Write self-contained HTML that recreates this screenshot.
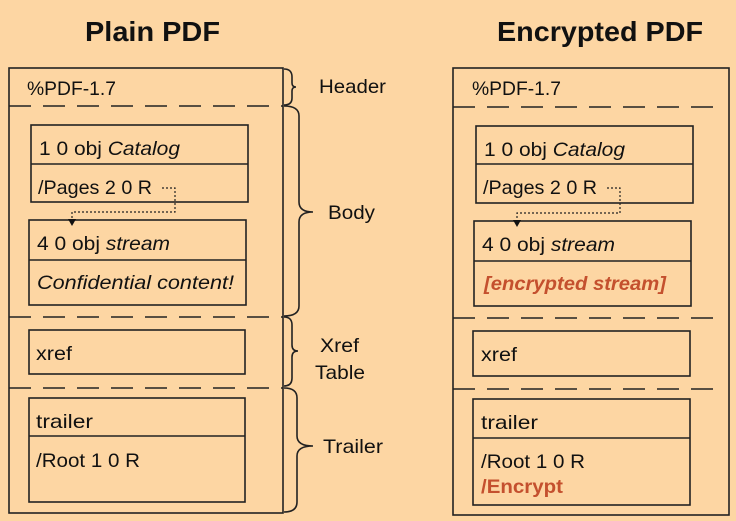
<!DOCTYPE html>
<html><head><meta charset="utf-8"><style>
html,body{margin:0;padding:0;background:#fdd6a3;}
svg{display:block}
text{font-family:"Liberation Sans",sans-serif;fill:#111;}
</style></head><body>
<svg width="736" height="521" viewBox="0 0 736 521" xmlns="http://www.w3.org/2000/svg">
<rect width="736" height="521" fill="#fdd6a3"/>
<g font-weight="bold" font-size="28">
<text x="85" y="41" textLength="135" lengthAdjust="spacingAndGlyphs">Plain PDF</text>
<text x="497" y="41" textLength="206" lengthAdjust="spacingAndGlyphs">Encrypted PDF</text>
</g>
<g fill="none" stroke="#222" stroke-width="1.6">
<rect x="9" y="68" width="274" height="445"/>
<g stroke-dasharray="22,12"><line x1="9" y1="106" x2="283" y2="106"/><line x1="9" y1="317" x2="283" y2="317"/><line x1="9" y1="388" x2="283" y2="388"/></g>
<rect x="31" y="125" width="217" height="77"/><line x1="31" y1="164" x2="248" y2="164"/>
<rect x="29" y="220" width="217" height="85"/><line x1="29" y1="260" x2="246" y2="260"/>
<rect x="29" y="330" width="216" height="44"/>
<rect x="29" y="398" width="216" height="104"/><line x1="29" y1="436" x2="245" y2="436"/>
<path d="M162 188 H175 V212 H72 V220" stroke-dasharray="2,2" stroke-width="1.2"/>
<rect x="453" y="68" width="276" height="447"/>
<g stroke-dasharray="22,12"><line x1="453" y1="107" x2="722" y2="107"/><line x1="453" y1="318" x2="722" y2="318"/><line x1="453" y1="389" x2="722" y2="389"/></g>
<rect x="476" y="126" width="217" height="77"/><line x1="476" y1="164" x2="693" y2="164"/>
<rect x="474" y="221" width="217" height="85"/><line x1="474" y1="261" x2="691" y2="261"/>
<rect x="473" y="331" width="217" height="45"/>
<rect x="473" y="399" width="217" height="106"/><line x1="473" y1="438" x2="690" y2="438"/>
<path d="M607 188 H620 V213 H517 V221" stroke-dasharray="2,2" stroke-width="1.2"/>
<path d="M284 69 Q292 69 292 77 V83 Q292 87 296 87 Q292 87 292 91 V98 Q292 105 284 105"/>
<path d="M284 106 Q299 106 299 116 V202 Q299 212 313 212 Q299 212 299 222 V306 Q299 316 284 316"/>
<path d="M284 317 Q292 317 292 325 V345 Q292 351 298 351 Q292 351 292 357 V378 Q292 386 284 386"/>
<path d="M284 388 Q297 388 297 398 V436 Q297 446 313 446 Q297 446 297 456 V502 Q297 512 284 512"/>
</g>
<path d="M68 219 L76 219 L72 226 Z" fill="#111"/>
<path d="M513 220 L521 220 L517 227 Z" fill="#111"/>
<g font-size="19.5">
<text x="27" y="95" textLength="89" lengthAdjust="spacingAndGlyphs">%PDF-1.7</text>
<text x="39" y="155" textLength="141" lengthAdjust="spacingAndGlyphs">1 0 obj <tspan font-style="italic">Catalog</tspan></text>
<text x="38" y="194" textLength="114" lengthAdjust="spacingAndGlyphs">/Pages 2 0 R</text>
<text x="37" y="250" textLength="133" lengthAdjust="spacingAndGlyphs">4 0 obj <tspan font-style="italic">stream</tspan></text>
<text x="37" y="289" font-style="italic" textLength="197" lengthAdjust="spacingAndGlyphs">Confidential content!</text>
<text x="36" y="360" textLength="36" lengthAdjust="spacingAndGlyphs">xref</text>
<text x="36" y="428" textLength="57" lengthAdjust="spacingAndGlyphs">trailer</text>
<text x="36" y="467" textLength="104" lengthAdjust="spacingAndGlyphs">/Root 1 0 R</text>
<text x="319" y="93" textLength="67" lengthAdjust="spacingAndGlyphs">Header</text>
<text x="328" y="219" textLength="47" lengthAdjust="spacingAndGlyphs">Body</text>
<text x="320" y="352" textLength="39" lengthAdjust="spacingAndGlyphs">Xref</text>
<text x="315" y="379" textLength="50" lengthAdjust="spacingAndGlyphs">Table</text>
<text x="323" y="453" textLength="60" lengthAdjust="spacingAndGlyphs">Trailer</text>
<text x="472" y="95" textLength="89" lengthAdjust="spacingAndGlyphs">%PDF-1.7</text>
<text x="484" y="156" textLength="141" lengthAdjust="spacingAndGlyphs">1 0 obj <tspan font-style="italic">Catalog</tspan></text>
<text x="483" y="194" textLength="114" lengthAdjust="spacingAndGlyphs">/Pages 2 0 R</text>
<text x="482" y="251" textLength="133" lengthAdjust="spacingAndGlyphs">4 0 obj <tspan font-style="italic">stream</tspan></text>
<text x="484" y="290" font-style="italic" font-weight="bold" style="fill:#c4502e" textLength="182" lengthAdjust="spacingAndGlyphs">[encrypted stream]</text>
<text x="481" y="361" textLength="36" lengthAdjust="spacingAndGlyphs">xref</text>
<text x="481" y="429" textLength="57" lengthAdjust="spacingAndGlyphs">trailer</text>
<text x="481" y="468" textLength="104" lengthAdjust="spacingAndGlyphs">/Root 1 0 R</text>
<text x="481" y="493" font-weight="bold" style="fill:#c4502e" textLength="82" lengthAdjust="spacingAndGlyphs">/Encrypt</text>
</g>
</svg>
</body></html>
